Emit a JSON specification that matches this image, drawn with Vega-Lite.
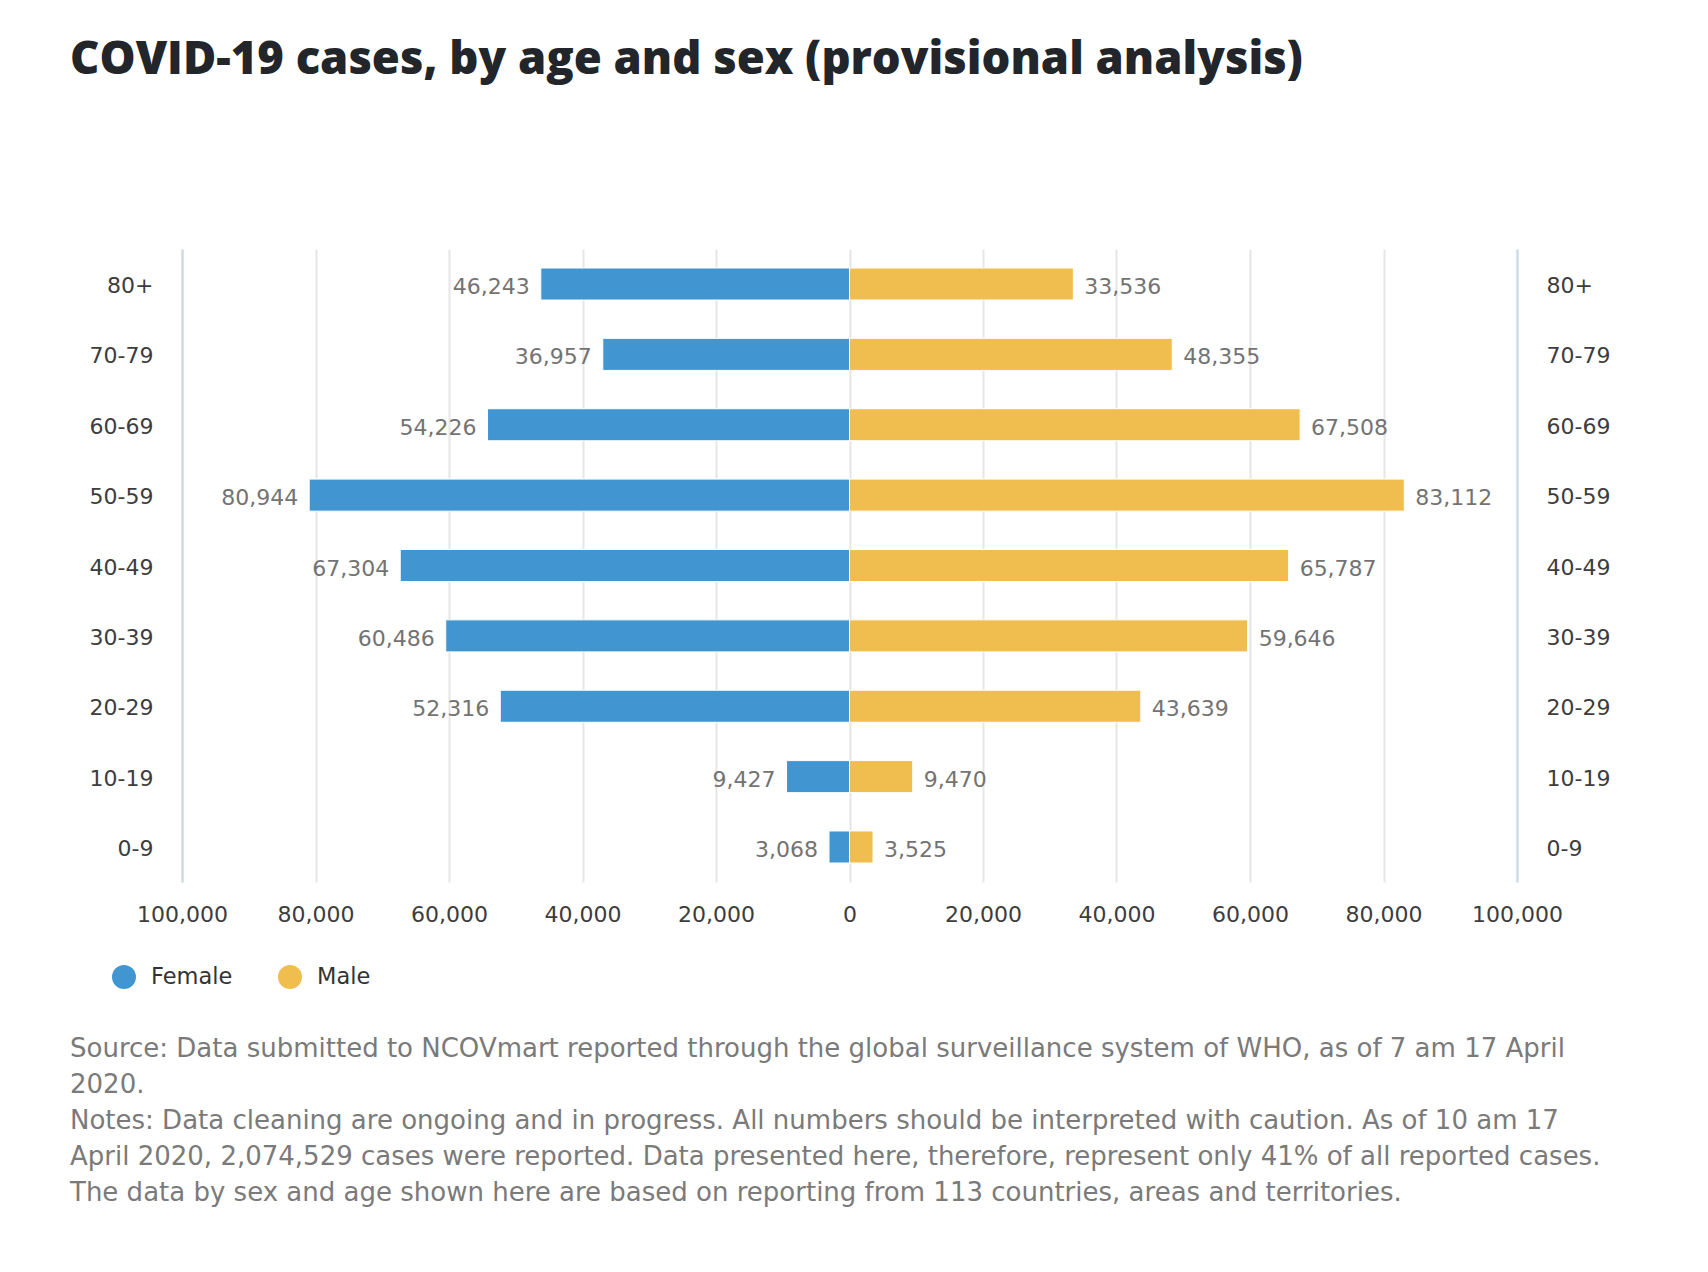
{
  "$schema": "https://vega.github.io/schema/vega-lite/v6.json",
  "background": "white",
  "padding": {"left": 70, "top": 37, "right": 20, "bottom": 20},
  "title": {
    "text": "COVID-19 cases, by age and sex (provisional analysis)",
    "anchor": "start",
    "font": "Open Sans",
    "fontSize": 45.4,
    "fontWeight": 800,
    "color": "#222529",
    "offset": 166,
    "frame": "bounds"
  },
  "data": {
    "values": [
      {"age": "80+", "sex": "Female", "cases": 46243},
      {"age": "80+", "sex": "Male", "cases": 33536},
      {"age": "70-79", "sex": "Female", "cases": 36957},
      {"age": "70-79", "sex": "Male", "cases": 48355},
      {"age": "60-69", "sex": "Female", "cases": 54226},
      {"age": "60-69", "sex": "Male", "cases": 67508},
      {"age": "50-59", "sex": "Female", "cases": 80944},
      {"age": "50-59", "sex": "Male", "cases": 83112},
      {"age": "40-49", "sex": "Female", "cases": 67304},
      {"age": "40-49", "sex": "Male", "cases": 65787},
      {"age": "30-39", "sex": "Female", "cases": 60486},
      {"age": "30-39", "sex": "Male", "cases": 59646},
      {"age": "20-29", "sex": "Female", "cases": 52316},
      {"age": "20-29", "sex": "Male", "cases": 43639},
      {"age": "10-19", "sex": "Female", "cases": 9427},
      {"age": "10-19", "sex": "Male", "cases": 9470},
      {"age": "0-9", "sex": "Female", "cases": 3068},
      {"age": "0-9", "sex": "Male", "cases": 3525}
    ]
  },
  "resolve": {"scale": {"color": "independent"}},
  "vconcat": [
    {
      "width": 1335,
      "height": 633,
      "title": {
        "text": [
          "Source: Data submitted to NCOVmart reported through the global surveillance system of WHO, as of 7 am 17 April",
          "2020.",
          "Notes: Data cleaning are ongoing and in progress. All numbers should be interpreted with caution. As of 10 am 17",
          "April 2020, 2,074,529 cases were reported. Data presented here, therefore, represent only 41% of all reported cases.",
          "The data by sex and age shown here are based on reporting from 113 countries, areas and territories."
        ],
        "orient": "bottom",
        "anchor": "start",
        "frame": "group",
        "dx": -112,
        "font": "DejaVu Sans",
        "fontSize": 26,
        "fontWeight": "normal",
        "color": "#7a7a7a",
        "lineHeight": 36,
        "offset": 47
      },
      "transform": [
        {"calculate": "datum.sex === 'Female' ? -datum.cases : datum.cases", "as": "signed"}
      ],
      "resolve": {"axis": {"y": "independent"}},
      "layer": [
        {
          "mark": {"type": "bar", "stroke": "white", "strokeWidth": 1},
          "encoding": {
            "y": {
              "field": "age",
              "type": "ordinal",
              "sort": ["80+", "70-79", "60-69", "50-59", "40-49", "30-39", "20-29", "10-19", "0-9"],
              "scale": {"paddingInner": 0.545, "paddingOuter": 0.27},
              "axis": {"orient": "left", "title": null}
            },
            "x": {
              "field": "signed",
              "type": "quantitative",
              "scale": {"domain": [-100000, 100000], "nice": false},
              "axis": {
                "title": null,
                "values": [-100000, -80000, -60000, -40000, -20000, 0, 20000, 40000, 60000, 80000, 100000],
                "labelExpr": "format(abs(datum.value), ',')"
              }
            },
            "color": {
              "field": "sex",
              "type": "nominal",
              "scale": {"domain": ["Female", "Male"], "range": ["#4195d1", "#f0bd4f"]},
              "legend": {
                "title": null,
                "orient": "none",
                "direction": "horizontal",
                "legendX": -70,
                "legendY": 716,
                "symbolType": "circle",
                "symbolSize": 576,
                "symbolStrokeWidth": 0,
                "symbolOpacity": 1,
                "labelFont": "DejaVu Sans",
                "labelFontSize": 22.5,
                "labelColor": "#333333",
                "labelOffset": 15,
                "columnPadding": 45
              }
            }
          }
        },
        {
          "transform": [{"filter": "datum.sex === 'Female'"}],
          "mark": {"type": "text", "align": "right", "baseline": "middle", "dx": -11, "dy": 3, "font": "DejaVu Sans", "fontSize": 22, "color": "#737373"},
          "encoding": {
            "y": {
              "field": "age",
              "type": "ordinal",
              "sort": ["80+", "70-79", "60-69", "50-59", "40-49", "30-39", "20-29", "10-19", "0-9"],
              "axis": null
            },
            "x": {"field": "signed", "type": "quantitative"},
            "text": {"field": "cases", "type": "quantitative", "format": ","}
          }
        },
        {
          "transform": [{"filter": "datum.sex === 'Male'"}],
          "mark": {"type": "text", "align": "left", "baseline": "middle", "dx": 11, "dy": 3, "font": "DejaVu Sans", "fontSize": 22, "color": "#737373"},
          "encoding": {
            "y": {
              "field": "age",
              "type": "ordinal",
              "sort": ["80+", "70-79", "60-69", "50-59", "40-49", "30-39", "20-29", "10-19", "0-9"],
              "axis": {"orient": "right", "title": null, "labelAlign": "left"}
            },
            "x": {"field": "signed", "type": "quantitative"},
            "text": {"field": "cases", "type": "quantitative", "format": ","}
          }
        }
      ]
    }
  ],
  "config": {
    "view": {"stroke": null},
    "axisY": {
      "domain": true,
      "domainColor": "#ccd6eb",
      "domainWidth": 2,
      "ticks": false,
      "grid": false,
      "labelFont": "DejaVu Sans",
      "labelFontSize": 22,
      "labelColor": "#3d3d3d",
      "labelPadding": 29,
      "labelOffset": 2
    },
    "axisX": {
      "domain": false,
      "ticks": false,
      "grid": true,
      "gridColor": "#e6e6e6",
      "gridWidth": 2,
      "labelFont": "DejaVu Sans",
      "labelFontSize": 22,
      "labelColor": "#3d3d3d",
      "labelPadding": 22,
      "labelFlush": false
    }
  }
}
